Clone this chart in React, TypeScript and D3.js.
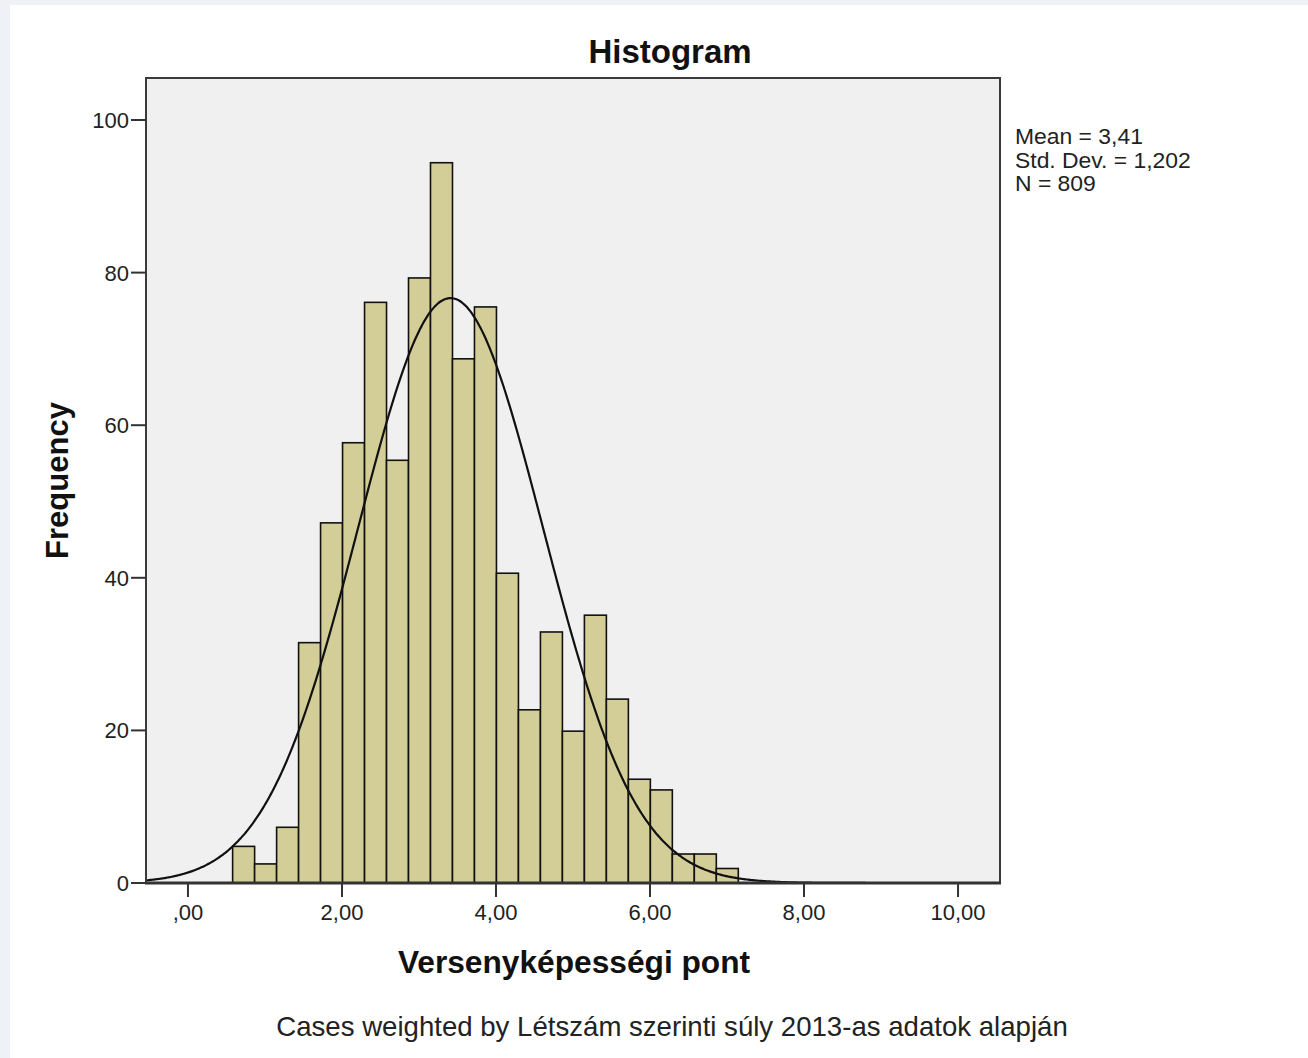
import React, { useEffect, useRef } from "react";
import * as d3 from "d3";

// histogram bins (lower edge of first bin and bin width, in data units)
const binStart = 0.58;
const binWidth = 0.2855;
// frequency of each bin
const counts = [
  4.8, 2.5, 7.3, 31.5, 47.2, 57.7, 76.1, 55.4, 79.3, 94.4, 68.7, 75.5, 40.6,
  22.7, 32.9, 19.9, 35.1, 24.1, 13.6, 12.2, 3.8, 3.8, 1.9,
];

const xTicks = [0, 2, 4, 6, 8, 10];
const xTickLabels = [",00", "2,00", "4,00", "6,00", "8,00", "10,00"];
const yTicks = [0, 20, 40, 60, 80, 100];

// summary statistics printed next to the chart
const mean = 3.41;
const stdDev = 1.202;
const total = 809;
const statLines = ["Mean = 3,41", "Std. Dev. = 1,202", "N = 809"];

const W = 1308;
const H = 1058;
const FONT = "'Liberation Sans', Arial, sans-serif";

const App: React.FC = () => {
  const svgRef = useRef<SVGSVGElement>(null);

  useEffect(() => {
    if (!svgRef.current) return;
    const svg = d3.select(svgRef.current);
    svg.selectAll("*").remove();

    // page background
    svg.append("rect").attr("width", W).attr("height", H).attr("fill", "#eef2f7");
    svg.append("rect").attr("x", 10).attr("y", 5).attr("width", W - 10).attr("height", H - 5).attr("fill", "#ffffff");

    const plot = { left: 146, right: 1000, top: 78, bottom: 883 };

    const x = d3.scaleLinear().domain([-0.545, 10.545]).range([plot.left, plot.right]);
    const y = d3.scaleLinear().domain([0, 100]).range([plot.bottom, 120]);

    // plot area
    svg
      .append("rect")
      .attr("x", plot.left)
      .attr("y", plot.top)
      .attr("width", plot.right - plot.left)
      .attr("height", plot.bottom - plot.top)
      .attr("fill", "#f0f0f0");

    // bars
    svg
      .append("g")
      .selectAll("rect")
      .data(counts)
      .join("rect")
      .attr("x", (_, i) => x(binStart + i * binWidth))
      .attr("y", (d) => y(d))
      .attr("width", x(binWidth) - x(0))
      .attr("height", (d) => y(0) - y(d))
      .attr("fill", "#d3ce97")
      .attr("stroke", "#111")
      .attr("stroke-width", 1.6);

    // normal curve
    const pdf = (v: number) =>
      (total * binWidth * Math.exp(-0.5 * ((v - mean) / stdDev) ** 2)) /
      (stdDev * Math.sqrt(2 * Math.PI));
    const xs = d3.range(-0.545, 10.55, 0.02);
    const line = d3
      .line<number>()
      .x((v) => x(v))
      .y((v) => y(pdf(v)))
      .curve(d3.curveMonotoneX);
    svg
      .append("path")
      .attr("d", line(xs) || "")
      .attr("fill", "none")
      .attr("stroke", "#111")
      .attr("stroke-width", 2.2);

    // frame
    svg
      .append("rect")
      .attr("x", plot.left)
      .attr("y", plot.top)
      .attr("width", plot.right - plot.left)
      .attr("height", plot.bottom - plot.top)
      .attr("fill", "none")
      .attr("stroke", "#3a3a3a")
      .attr("stroke-width", 2);
    svg
      .append("line")
      .attr("x1", plot.left - 1)
      .attr("x2", plot.right + 1)
      .attr("y1", plot.bottom)
      .attr("y2", plot.bottom)
      .attr("stroke", "#333")
      .attr("stroke-width", 3);

    // y axis ticks
    const yAxis = svg.append("g");
    yTicks.forEach((t) => {
      yAxis
        .append("line")
        .attr("x1", plot.left - 15)
        .attr("x2", plot.left)
        .attr("y1", y(t))
        .attr("y2", y(t))
        .attr("stroke", "#333")
        .attr("stroke-width", 2);
      yAxis
        .append("text")
        .attr("x", plot.left - 17)
        .attr("y", y(t) + 8)
        .attr("text-anchor", "end")
        .style("font-family", FONT)
        .style("font-size", "22px")
        .style("fill", "#222")
        .text(t);
    });

    // x axis ticks
    const xAxis = svg.append("g");
    xTicks.forEach((t, i) => {
      xAxis
        .append("line")
        .attr("x1", x(t))
        .attr("x2", x(t))
        .attr("y1", plot.bottom)
        .attr("y2", plot.bottom + 14)
        .attr("stroke", "#333")
        .attr("stroke-width", 2);
      xAxis
        .append("text")
        .attr("x", x(t))
        .attr("y", plot.bottom + 37)
        .attr("text-anchor", "middle")
        .style("font-family", FONT)
        .style("font-size", "22px")
        .style("fill", "#222")
        .text(xTickLabels[i]);
    });

    // titles
    svg
      .append("text")
      .attr("x", 670)
      .attr("y", 63)
      .attr("text-anchor", "middle")
      .style("font-family", FONT)
      .style("font-size", "33px")
      .style("font-weight", "bold")
      .style("fill", "#111")
      .text("Histogram");

    svg
      .append("text")
      .attr("transform", `translate(68, ${(plot.top + plot.bottom) / 2}) rotate(-90)`)
      .attr("text-anchor", "middle")
      .style("font-family", FONT)
      .style("font-size", "31px")
      .style("font-weight", "bold")
      .style("fill", "#111")
      .text("Frequency");

    svg
      .append("text")
      .attr("x", 574)
      .attr("y", 973)
      .attr("text-anchor", "middle")
      .style("font-family", FONT)
      .style("font-size", "31.7px")
      .style("font-weight", "bold")
      .style("fill", "#111")
      .text("Versenyképességi pont");

    svg
      .append("text")
      .attr("x", 672)
      .attr("y", 1036)
      .attr("text-anchor", "middle")
      .style("font-family", FONT)
      .style("font-size", "27.6px")
      .style("fill", "#222")
      .text("Cases weighted by Létszám szerinti súly 2013-as adatok alapján");

    // statistics
    statLines.forEach((s, i) => {
      svg
        .append("text")
        .attr("x", 1015)
        .attr("y", 144 + i * 23.5)
        .style("font-family", FONT)
        .style("font-size", "22.9px")
        .style("fill", "#222")
        .text(s);
    });
  }, []);

  return (
    <svg
      ref={svgRef}
      width={W}
      height={H}
      style={{ position: "absolute", left: 0, top: 0, display: "block" }}
    />
  );
};

export default App;
